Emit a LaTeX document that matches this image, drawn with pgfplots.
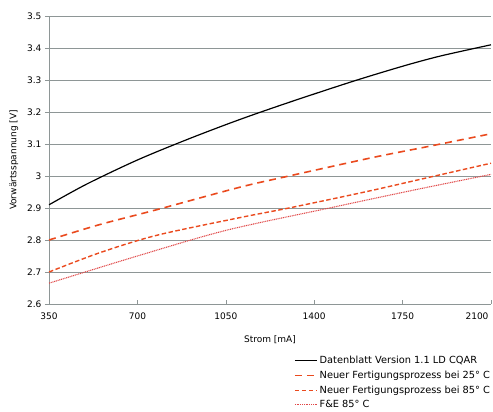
\documentclass[border=0pt]{standalone}
\usepackage{pgfplots}
\pgfplotsset{compat=1.18}
\usepackage{fontspec}
\setmainfont{DejaVu Sans}
\definecolor{gridgray}{HTML}{8E9696}
\definecolor{orred}{HTML}{EA4A1E}
\definecolor{dotred}{HTML}{E04848}
\begin{document}
\begin{tikzpicture}
\useasboundingbox (-49pt,-108pt) rectangle (444pt,304pt);
\begin{axis}[
  scale only axis, width=442pt, height=288pt,
  xmin=350, xmax=2100, ymin=2.6, ymax=3.5,
  xtick={350,700,1050,1400,1750},
  xticklabels={350,700,1050,1400,1750},
  extra x ticks={2100}, extra x tick labels={2100},
  extra x tick style={xticklabel style={anchor=north east, xshift=1pt}},
  ytick={2.6,2.7,2.8,2.9,3,3.1,3.2,3.3,3.4,3.5},
  yticklabels={2.6,2.7,2.8,2.9,3,3.1,3.2,3.3,3.4,3.5},
  axis x line*=bottom, axis y line*=left,
  axis line style={gridgray, line width=0.8pt, -},
  ymajorgrids, grid style={gridgray, line width=0.8pt},
  ytick style={gridgray, line width=0.8pt},
  xtick style={gridgray, line width=0.6pt},
  ytick align=outside, xtick align=inside, major tick length=4pt,
  tick label style={font=\fontsize{9}{10}\selectfont},
  xticklabel style={yshift=-5pt},
  /pgf/number format/assume math mode=true,
  xlabel={Strom [mA]}, ylabel={Vorwärtsspannung [V]},
  label style={font=\fontsize{9}{10}\selectfont},
  xlabel style={yshift=-9pt},
  ylabel style={yshift=2pt},
  legend style={at={(0.554,-0.174)}, anchor=north west, draw=none, fill=none,
    font=\fontsize{9.8}{11.5}\selectfont, row sep=1.8pt, inner sep=0pt},
  legend cell align=left,
  legend image code/.code={\draw[#1] (0pt,0pt) -- (22pt,0pt);},
]
\addplot[black, line width=1.2pt, smooth] coordinates {
(350,2.91) (500,2.975) (700,3.05) (900,3.115) (1100,3.175) (1300,3.23) (1550,3.295) (1750,3.343) (1900,3.375) (2100,3.41)};
\addlegendentry{Datenblatt Version 1.1 LD CQAR}
\addplot[orred, line width=1.6pt, dash pattern=on 7pt off 5pt, smooth] coordinates {
(350,2.80) (550,2.848) (778,2.895) (1106,2.965) (1300,3.0) (1633,3.058) (1850,3.092) (2100,3.132)};
\addlegendentry{Neuer Fertigungsprozess bei 25° C}
\addplot[orred, line width=1.4pt, dash pattern=on 4.5pt off 2.5pt, smooth] coordinates {
(350,2.70) (550,2.76) (778,2.815) (1106,2.87) (1300,2.90) (1600,2.95) (1850,2.995) (2100,3.04)};
\addlegendentry{Neuer Fertigungsprozess bei 85° C}
\addplot[dotred, line width=1.1pt, dash pattern=on 1pt off 0.8pt, smooth] coordinates {
(350,2.665) (700,2.75) (1050,2.83) (1460,2.90) (1800,2.957) (2100,3.005)};
\addlegendentry{F\&E 85° C}
\end{axis}
\end{tikzpicture}
\end{document}
